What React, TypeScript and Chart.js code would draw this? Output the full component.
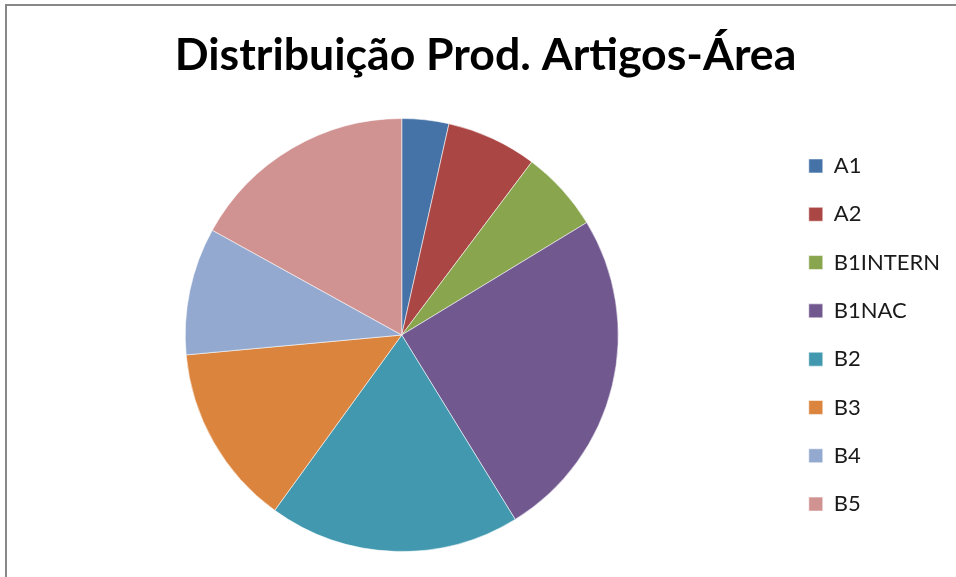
import React, { useEffect, useRef } from "react";
import { Chart, registerables } from "chart.js";

Chart.register(...registerables);

const titleText = "Distribuição Prod. Artigos-Área";
const categories = ["A1", "A2", "B1INTERN", "B1NAC", "B2", "B3", "B4", "B5"];
const values = [3.5, 6.75, 6.05, 24.9, 18.75, 13.55, 9.5, 16.95];
const colors = [
  "#4572A7",
  "#AA4643",
  "#89A54E",
  "#71588F",
  "#4198AF",
  "#DB843D",
  "#93A9CF",
  "#D19392",
];

export default function App() {
  const canvasRef = useRef<HTMLCanvasElement | null>(null);

  useEffect(() => {
    const prevMargin = document.body.style.margin;
    document.body.style.margin = "0";
    const canvas = canvasRef.current;
    if (!canvas) return;
    const chart = new Chart(canvas, {
      type: "pie",
      data: {
        labels: categories,
        datasets: [
          {
            data: values,
            backgroundColor: colors,
            borderColor: "rgba(255,255,255,0.55)",
            borderWidth: 1,
          },
        ],
      },
      options: {
        animation: false,
        responsive: false,
        devicePixelRatio: 1,
        layout: {
          padding: { left: 21, right: 6, top: 0, bottom: 25 },
        },
        plugins: {
          title: {
            display: true,
            text: titleText,
            color: "#000000",
            font: { family: "Lato", size: 44.6, weight: "bold" },
            padding: { top: 28.7, bottom: 35.8 },
          },
          legend: {
            display: true,
            position: "right",
            fullSize: false,
            labels: {
              boxWidth: 14,
              boxHeight: 14,
              padding: 26.3,
              color: "#1a1a1a",
              font: { family: "Lato", size: 22 },
            },
          },
          tooltip: { enabled: false },
        },
      },
    });
    return () => {
      chart.destroy();
      document.body.style.margin = prevMargin;
    };
  }, []);

  return (
    <div
      style={{
        position: "fixed",
        left: 0,
        top: 0,
        width: 956,
        height: 577,
        background: "#ffffff",
        overflow: "hidden",
      }}
    >
      <div
        style={{
          position: "absolute",
          left: 5,
          top: 4,
          width: 1000,
          height: 1000,
          border: "2px solid #888888",
          boxSizing: "border-box",
        }}
      />
      <canvas
        ref={canvasRef}
        width={956}
        height={577}
        style={{ position: "absolute", left: 0, top: 0, width: 956, height: 577 }}
      />
    </div>
  );
}
